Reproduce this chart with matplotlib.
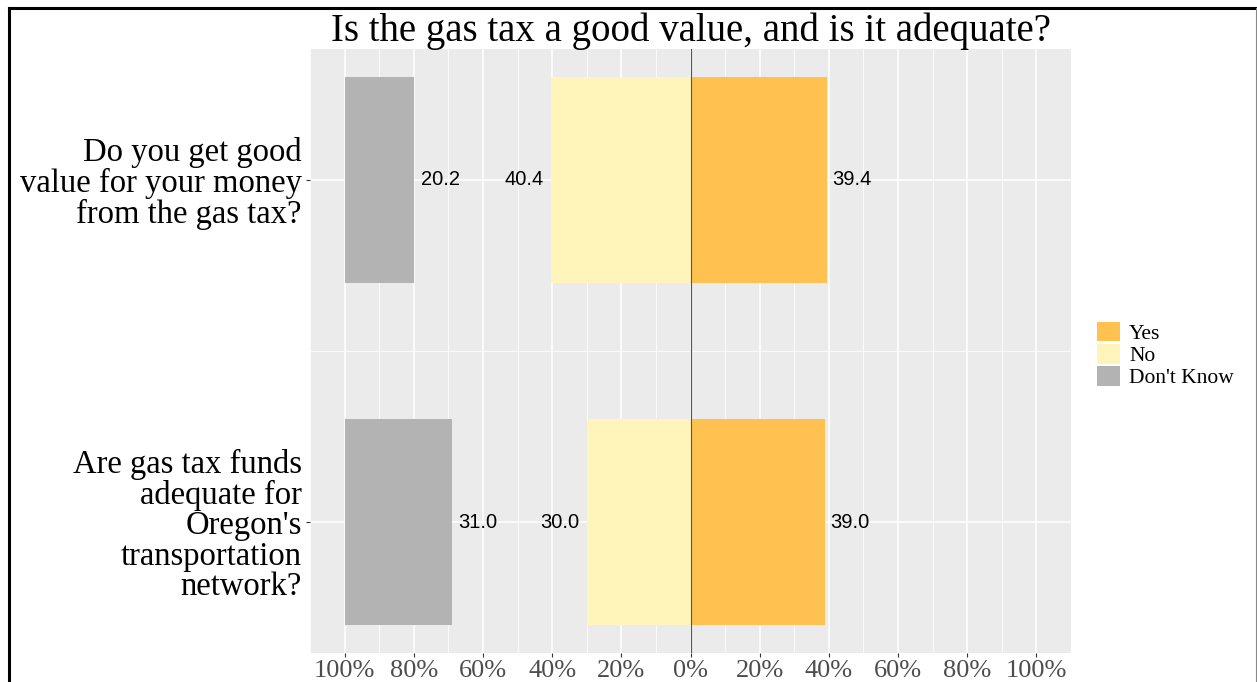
import numpy as np
import matplotlib.pyplot as plt
from matplotlib.lines import Line2D
from matplotlib.patches import Patch

questions = ["Do you get good\nvalue for your money\nfrom the gas tax?",
             "Are gas tax funds\nadequate for\nOregon's\ntransportation\nnetwork?"]
yes = [39.4, 39.0]
no = [40.4, 30.0]
dont_know = [20.2, 31.0]
ticks = [-100, -80, -60, -40, -20, 0, 20, 40, 60, 80, 100]
tick_labels = [f"{abs(t)}%" for t in ticks]

c_yes = '#FFC250'
c_no = '#FFF5BA'
c_dk = '#B3B3B3'

serif = ['Liberation Serif', 'DejaVu Serif']
sans = ['Liberation Sans', 'DejaVu Sans']

fig = plt.figure(figsize=(12.57, 6.82), dpi=100)
ax = fig.add_axes([310 / 1257, 1 - 653 / 682, (1071 - 310) / 1257, (653 - 49) / 682])
ax.set_facecolor('#EBEBEB')

ypos = np.array([2, 1])  # first question on top
h = 0.6
ax.barh(ypos, yes, height=h, left=0, color=c_yes, zorder=2)
ax.barh(ypos, [-v for v in no], height=h, left=0, color=c_no, zorder=2)
ax.barh(ypos, dont_know, height=h, left=-100, color=c_dk, zorder=2)
ax.axvline(0, color='#555555', lw=0.8, zorder=3)

lab_fs = 14.5
for y, v in zip(ypos, yes):
    ax.text(v + 1.5, y, f"{v:.1f}", ha='left', va='center', fontsize=lab_fs, family=sans, zorder=4)
for y, v in zip(ypos, no):
    ax.text(-v - 2, y, f"{v:.1f}", ha='right', va='center', fontsize=lab_fs, family=sans, zorder=4)
for y, v in zip(ypos, dont_know):
    ax.text(-100 + v + 1.8, y, f"{v:.1f}", ha='left', va='center', fontsize=lab_fs, family=sans, zorder=4)

ax.set_xlim(-110, 110)
ax.set_ylim(1 - 0.383, 2 + 0.383)
ax.set_xticks(ticks)
ax.set_xticklabels(tick_labels, family=serif, fontsize=19, color='#4D4D4D')
ax.set_xticks(np.arange(-110, 111, 20), minor=True)
ax.set_yticks(ypos)
ax.set_yticklabels(questions, family=serif, fontsize=23.5, color='black', linespacing=1.0)
ax.set_yticks([1.5], minor=True)
ax.tick_params(axis='both', which='major', length=3, color='#333333', pad=3)
ax.tick_params(axis='x', which='major', pad=2)
ax.tick_params(axis='both', which='minor', length=0)
ax.grid(which='major', color='white', lw=1.1, zorder=0)
ax.grid(which='minor', color='white', lw=0.55, zorder=0)
ax.set_axisbelow(True)
for s in ax.spines.values():
    s.set_visible(False)

fig.text(691 / 1257, 1 - 31 / 682, "Is the gas tax a good value, and is it adequate?",
         ha='center', va='center', family=serif, fontsize=28)

handles = [Patch(facecolor=c_yes, label='Yes'), Patch(facecolor=c_no, label='No'),
           Patch(facecolor=c_dk, label="Don't Know")]
fig.legend(handles=handles, loc='center left', bbox_to_anchor=(1086 / 1257, 1 - 355 / 682),
           frameon=False, prop={'family': serif, 'size': 15.5}, handlelength=1.1,
           handleheight=1.05, handletextpad=0.4, labelspacing=0.0, borderpad=0)

# outer border
fig.add_artist(Line2D([8.5 / 1257, 8.5 / 1257], [0, 1 - 7.5 / 682], transform=fig.transFigure, color='black', lw=2.2))
fig.add_artist(Line2D([8.5 / 1257, 1255.5 / 1257], [1 - 7.5 / 682, 1 - 7.5 / 682], transform=fig.transFigure, color='black', lw=2.2))
fig.add_artist(Line2D([1255.5 / 1257, 1255.5 / 1257], [0, 1 - 7.5 / 682], transform=fig.transFigure, color='#888888', lw=0.8))

fig.savefig('out.png', dpi=100)
